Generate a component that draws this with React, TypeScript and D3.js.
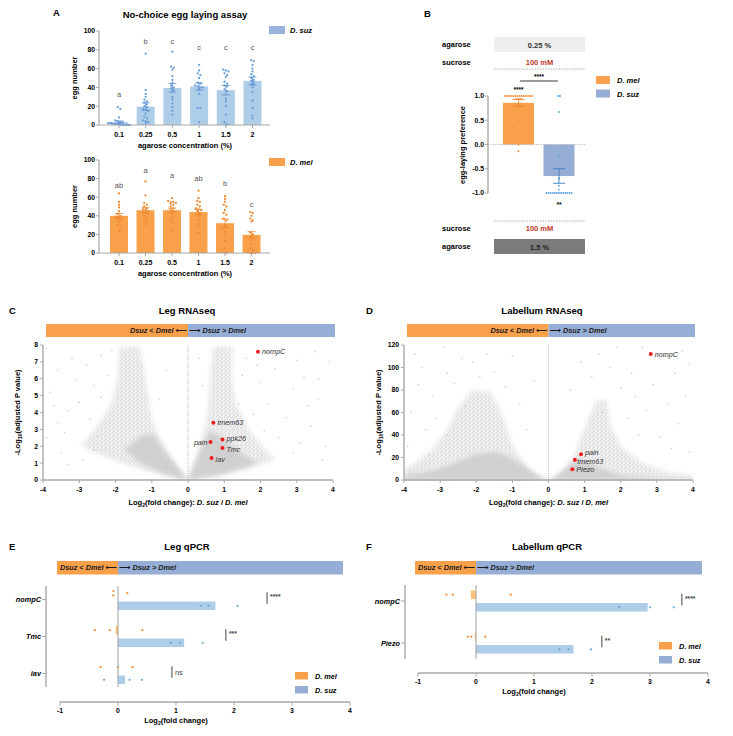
import React from 'react';
import * as d3 from 'd3';

const FONT = '"Liberation Sans", Arial, Helvetica, sans-serif';
const ORANGE = '#f9a04b';
const ORANGE_LIGHT = '#fbbf78';
const ORANGE_DOT = '#f28c36';
const BLUE_HDR = '#96aed5';
const BLUE_BAR = '#aecde8';
const BLUE_DOT = '#6a9fda';
const AXIS = '#a8a8a8';
const RED_TXT = '#c0392b';

// ---------- Panel A data ----------
const concentrations = ['0.1', '0.25', '0.5', '1', '1.5', '2'];
const yTicksA = [0, 20, 40, 60, 80, 100];
const suzMeans = [3, 19.5, 39.5, 41, 37, 47];
const suzSem = [1.2, 4, 4.5, 3.8, 5, 4];
const suzLetters = ['a', 'b', 'c', 'c', 'c', 'c'];
const suzLetterY = [30, 86, 86, 80, 80, 80];
const suzPoints = [
  [19, 17, 8, 5, 4, 3, 3, 2, 2, 1, 1, 1, 0, 0, 0, 0, 0, 2, 1, 0],
  [76, 37, 33, 30, 27, 25, 24, 22, 20, 19, 17, 16, 15, 12, 9, 7, 5, 4, 3, 2],
  [78, 62, 61, 59, 52, 48, 45, 42, 40, 39, 37, 35, 30, 27, 23, 19, 15, 11],
  [64, 58, 55, 53, 50, 45, 44, 42, 41, 40, 40, 38, 33, 18, 18, 3],
  [59, 58, 57, 55, 53, 51, 46, 44, 42, 41, 38, 36, 28, 25, 20, 11, 3, 1, 0],
  [69, 68, 64, 60, 57, 54, 52, 50, 48, 47, 45, 43, 42, 40, 35, 26, 18, 10, 7],
];
const melMeans = [40, 46, 46, 44, 32, 19.5];
const melSem = [2.5, 2.7, 2.3, 2.8, 4.5, 3.5];
const melLetters = ['ab', 'a', 'a', 'ab', 'b', 'c'];
const melLetterY = [70, 86, 80.5, 77, 72, 50];
const melPoints = [
  [64, 55, 52, 49, 45, 42, 40, 39, 38, 37, 36, 35, 33, 30, 28, 24],
  [77, 62, 54, 52, 50, 48, 47, 46, 45, 44, 43, 42, 40, 38, 35, 33, 31],
  [59, 56, 55, 55, 54, 53, 52, 50, 48, 47, 45, 42, 38, 35, 33, 24],
  [67, 59, 56, 55, 52, 50, 48, 47, 46, 45, 43, 40, 36, 31, 28, 22, 21],
  [61, 58, 55, 52, 50, 46, 43, 41, 37, 35, 30, 23, 19, 13, 5, 1, 0],
  [44, 43, 40, 37, 35, 34, 22, 20, 17, 14, 9, 5, 3, 1, 0, 0, 0],
];

// ---------- Panel B data ----------
const prefTicks = [-1, -0.5, 0, 0.5, 1];
const prefSpecies = ['D. mel', 'D. suz'];
const prefMeans = [0.86, -0.65];
const prefErrLo = [0.79, -0.8];
const prefErrHi = [0.93, -0.5];
const prefMelPoints = [1, 1, 1, 1, 1, 1, 1, 1, 1, 1, 1, 1, 1, 1, 0.94, 0.94, 0.94, 0.5, 0, -0.14];
const prefSuzPoints = [1, 1, 0.67, -0.25, -0.7, -0.85, -0.93, -1, -1, -1, -1, -1, -1, -1, -1, -1, -1, -1, -1, -1];

// ---------- Panels C / D (volcano) ----------
const volcanoXTicks = [-4, -3, -2, -1, 0, 1, 2, 3, 4];
const legYTicks = [0, 1, 2, 3, 4, 5, 6, 7, 8];
const labYTicks = [0, 20, 40, 60, 80, 100, 120];
const legCloudLeft: [number, number][] = [[0, 0], [-0.25, 0.7], [-0.55, 1.6], [-0.8, 2.6], [-0.96, 3.4], [-1.1, 5.0], [-1.2, 6.5], [-1.33, 7.9], [-1.9, 7.9], [-1.95, 6.0], [-2.1, 4.6], [-2.5, 3.2], [-2.95, 2.0], [-2.2, 1.3], [-1.4, 0.7], [-0.7, 0.25]];
const legCoreLeft: [number, number][] = [[0, 0], [-0.35, 0.9], [-0.7, 1.9], [-0.95, 2.7], [-1.3, 2.6], [-1.75, 1.8], [-1.3, 1.0], [-0.7, 0.4]];
const legCloudRight: [number, number][] = [[0, 0], [0.12, 0.8], [0.3, 2.0], [0.5, 3.4], [0.58, 5.0], [0.62, 6.5], [0.68, 7.9], [1.25, 7.9], [1.2, 6.2], [1.3, 4.6], [1.65, 3.1], [2.0, 2.1], [2.4, 1.2], [1.6, 0.6], [0.8, 0.2]];
const legCoreRight: [number, number][] = [[0, 0], [0.2, 1.0], [0.4, 2.0], [0.6, 2.9], [0.95, 2.5], [1.4, 1.7], [1.9, 1.0], [1.0, 0.4]];
const legScatter: [number, number][] = [
  [-3.9, 7.8], [-3.6, 6.5], [-3.8, 5.2], [-3.3, 4.1], [-3.6, 3.4], [-3.9, 2.5], [-3.4, 2.8], [-2.8, 6.8], [-2.6, 5.6], [-2.4, 7.4],
  [-3.1, 5.9], [-2.7, 3.6], [-3.5, 1.6], [-2.9, 1.2], [-3.2, 7.2], [-2.5, 2.6], [-3.0, 4.6], [-2.2, 6.2], [-3.7, 4.4], [-2.6, 1.8],
  [-2.1, 7.7], [-3.3, 0.9], [-2.4, 4.9], [-0.6, 6.5], [-0.8, 4.8],
  [3.9, 7.0], [3.5, 7.6], [3.2, 6.1], [2.9, 5.4], [3.6, 4.8], [3.8, 2.0], [3.1, 2.2], [2.7, 3.7], [2.4, 6.6], [2.2, 4.5],
  [2.0, 5.8], [1.6, 7.2], [1.8, 3.9], [2.5, 2.5], [3.4, 3.2], [2.9, 1.6], [3.7, 1.2], [1.5, 6.2], [1.4, 4.5], [2.6, 7.8],
  [3.0, 7.1], [3.3, 4.4], [2.1, 2.9], [1.9, 6.8], [3.6, 6.0], [0.4, 5.6], [0.3, 7.2],
];
const legHits = [
  { gene: 'nompC', fc: 1.93, p: 7.6, dx: 4, dy: 2.5 },
  { gene: 'tmem63', fc: 0.7, p: 3.4, dx: 4, dy: 2.5 },
  { gene: 'ppk26', fc: 0.95, p: 2.4, dx: 4, dy: 1.5 },
  { gene: 'pain', fc: 0.62, p: 2.25, dx: -3, dy: 2.5 },
  { gene: 'Tmc', fc: 0.95, p: 1.9, dx: 4, dy: 4 },
  { gene: 'iav', fc: 0.65, p: 1.3, dx: 4, dy: 3.5 },
];
const labCloudLeft: [number, number][] = [[0, 0], [-0.3, 5], [-0.6, 13], [-0.9, 25], [-1.1, 40], [-1.3, 60], [-1.6, 78], [-2.1, 80], [-2.5, 65], [-2.8, 45], [-3.2, 28], [-3.7, 15], [-4, 10], [-4, 0]];
const labCoreLeft: [number, number][] = [[0, 0], [-0.25, 3], [-0.5, 8], [-0.8, 15], [-1.1, 21], [-1.5, 25], [-2.0, 23], [-2.6, 15], [-3.2, 8], [-4, 4], [-4, 0]];
const labCloudRight: [number, number][] = [[0, 0], [0.2, 3], [0.45, 10], [0.7, 22], [0.9, 38], [1.1, 55], [1.3, 70], [1.6, 72], [1.7, 50], [2.0, 30], [2.6, 15], [3.3, 7], [4, 4], [4, 0]];
const labCoreRight: [number, number][] = [[0, 0], [0.2, 3], [0.4, 8], [0.6, 14], [0.85, 18], [1.1, 16], [1.45, 10], [2.0, 4], [3.0, 1.5], [4, 0.5], [4, 0]];
const labScatter: [number, number][] = [
  [-3.5, 100], [-3.7, 112], [-2.9, 118], [-2.4, 108], [-1.9, 92], [-2.6, 86], [-3.2, 75], [-3.8, 60], [-3.4, 45], [-2.1, 105],
  [-1.5, 96], [-1.2, 83], [-0.8, 68], [-0.6, 45], [-3.9, 30], [-2.8, 95], [-3.1, 55], [-1.0, 110], [-0.4, 88], [-3.6, 85],
  [-2.3, 66], [-1.7, 112], [-3.3, 22], [-2.8, 40],
  [3.9, 103], [3.5, 95], [3.2, 110], [2.6, 118], [2.3, 95], [2.0, 82], [1.7, 100], [1.4, 112], [3.8, 75], [3.3, 68],
  [2.7, 62], [2.2, 55], [3.6, 50], [3.1, 38], [2.5, 40], [3.9, 25], [1.9, 118], [1.2, 92], [0.9, 105], [2.9, 85],
  [3.4, 28], [2.4, 74], [1.5, 60], [0.6, 80], [3.7, 115],
];
const labHits = [
  { gene: 'nompC', fc: 2.83, p: 112, dx: 4, dy: 2.5 },
  { gene: 'pain', fc: 0.9, p: 23, dx: 4, dy: 0.5 },
  { gene: 'tmem63', fc: 0.73, p: 18, dx: 2.5, dy: 4 },
  { gene: 'Piezo', fc: 0.66, p: 9.5, dx: 4, dy: 3 },
];

// ---------- Panels E / F (qPCR) ----------
const qXTicks = [-1, 0, 1, 2, 3, 4];
const legGenes = ['nompC', 'Tmc', 'iav'];
const legMelBar = [0, -0.04, 0];
const legSuzBar = [1.68, 1.14, 0.12];
const legMelPts = [[-0.08, -0.08, 0.16], [-0.4, -0.14, 0.42], [-0.3, 0.0, 0.25]];
const legSuzPts = [[1.43, 1.56, 2.06], [0.91, 1.07, 1.46], [-0.24, 0.2, 0.41]];
const legSig = ['****', '***', 'ns'];
const legSigX = [2.57, 1.86, 0.93];
const labGenes = ['nompC', 'Piezo'];
const labMelBar = [-0.09, -0.02];
const labSuzBar = [2.96, 1.68];
const labMelPts = [[-0.51, -0.4, 0.6], [-0.14, -0.08, 0.16]];
const labSuzPts = [[2.47, 3.0, 3.41], [1.44, 1.6, 1.98]];
const labSig = ['****', '**'];
const labSigX = [3.55, 2.17];

// ---------- helpers ----------
function swarm(values: number[], pxPerUnit: number, gap = 2.6, maxW = 22): number[] {
  const idx = values.map((v, i) => i).sort((a, b) => values[b] - values[a]);
  const offs = new Array(values.length).fill(0);
  let i = 0;
  while (i < idx.length) {
    let j = i;
    const start = values[idx[i]];
    while (j < idx.length && (start - values[idx[j]]) * pxPerUnit < 2.4) j++;
    const n = j - i;
    const g = n > 1 ? Math.min(gap, maxW / (n - 1)) : gap;
    for (let k = 0; k < n; k++) offs[idx[i + k]] = (k - (n - 1) / 2) * g;
    i = j;
  }
  return offs;
}

const T = (p: any) => <text fontFamily={FONT} {...p} />;

function BarPanel(props: {
  top: number; bottom: number; means: number[]; sem: number[]; pts: number[][];
  letters: string[]; letterY: number[]; barColor: string; dotColor: string; errColor: string;
  legendColor: string; legendLabel: string; legendY: number; x0: number; x1: number;
}) {
  const { top, bottom } = props;
  const x = d3.scalePoint<string>().domain(concentrations).range([props.x0, props.x1]);
  const y = d3.scaleLinear().domain([0, 100]).range([bottom, top]);
  const bw = 18;
  const ax = 99;
  return (
    <g>
      {props.means.map((m, i) => (
        <rect key={i} x={x(concentrations[i])! - bw / 2} y={y(m)} width={bw} height={y(0) - y(m)} fill={props.barColor} />
      ))}
      {props.pts.map((arr, i) => {
        const offs = swarm(arr, (bottom - top) / 100, 2.6, 22);
        return arr.map((v, k) => (
          <circle key={i + '-' + k} cx={x(concentrations[i])! + offs[k]} cy={y(v)} r={1.15} fill={props.dotColor} />
        ));
      })}
      {props.means.map((m, i) => {
        const cx = x(concentrations[i])!;
        const lo = y(Math.max(0, m - props.sem[i]));
        const hi = y(m + props.sem[i]);
        return (
          <g key={'e' + i} stroke={props.errColor} strokeWidth={0.8}>
            <line x1={cx} x2={cx} y1={lo} y2={hi} />
            <line x1={cx - 4} x2={cx + 4} y1={hi} y2={hi} />
            <line x1={cx - 4} x2={cx + 4} y1={lo} y2={lo} />
          </g>
        );
      })}
      {props.letters.map((l, i) => (
        <T key={'l' + i} x={x(concentrations[i])} y={y(props.letterY[i])} fontSize={7.5} fill="#555" textAnchor="middle">{l}</T>
      ))}
      <line x1={ax} x2={ax} y1={y(0)} y2={y(100)} stroke={AXIS} strokeWidth={1.2} />
      <line x1={ax} x2={270} y1={y(0)} y2={y(0)} stroke={AXIS} strokeWidth={1.2} />
      {yTicksA.map((t) => (
        <g key={'yt' + t}>
          <line x1={ax - 3} x2={ax} y1={y(t)} y2={y(t)} stroke={AXIS} strokeWidth={1} />
          <T x={ax - 4} y={y(t) + 2.4} fontSize={6.8} fontWeight="bold" textAnchor="end">{t}</T>
        </g>
      ))}
      {concentrations.map((c) => (
        <g key={'xt' + c}>
          <line x1={x(c)} x2={x(c)} y1={y(0)} y2={y(0) + 3} stroke={AXIS} strokeWidth={1} />
          <T x={x(c)} y={y(0) + 12} fontSize={7} fontWeight="bold" textAnchor="middle">{c}</T>
        </g>
      ))}
      <T x={185} y={y(0) + 23} fontSize={7.5} fontWeight="bold" textAnchor="middle">agarose concentration (%)</T>
      <T transform={`translate(77,${(top + bottom) / 2}) rotate(-90)`} fontSize={7.5} fontWeight="bold" textAnchor="middle">egg number</T>
      <rect x={269} y={props.legendY} width={16} height={8} fill={props.legendColor} />
      <T x={290} y={props.legendY + 7} fontSize={7.5} fontWeight="bold" fontStyle="italic">{props.legendLabel}</T>
    </g>
  );
}

function PanelB() {
  const y = d3.scaleLinear().domain([-1, 1]).range([193, 96]);
  const cx = [518.5, 559];
  const bw = 31;
  const ax = 488;
  const colors = [ORANGE, '#96aed6'];
  const dotC = [ORANGE_DOT, '#5aa3dd'];
  const errC = ['#ee8228', '#3f80c4'];
  const ptsAll = [prefMelPoints, prefSuzPoints];
  return (
    <g>
      <T x={424} y={17} fontSize={9.5} fontWeight="bold">B</T>
      <T x={442} y={47} fontSize={7.5} fontWeight="bold">agarose</T>
      <rect x={494} y={37} width={91} height={15} fill="#eeeeee" />
      <T x={539.5} y={47.5} fontSize={7.5} fontWeight="bold" textAnchor="middle" fill="#333">0.25 %</T>
      <T x={442} y={65} fontSize={7.5} fontWeight="bold">sucrose</T>
      <T x={539.5} y={65} fontSize={7.5} fontWeight="bold" textAnchor="middle" fill={RED_TXT}>100 mM</T>
      <line x1={494} x2={585} y1={69} y2={69} stroke="#999" strokeDasharray="1.5,1.2" strokeWidth={0.8} />
      <line x1={520} x2={558} y1={81} y2={81} stroke="#222" strokeWidth={0.9} />
      <T x={539} y={79} fontSize={6.5} fontWeight="bold" textAnchor="middle">****</T>
      {prefMeans.map((m, i) => (
        <rect key={i} x={cx[i] - bw / 2} y={Math.min(y(m), y(0))} width={bw} height={Math.abs(y(m) - y(0))} fill={colors[i]} />
      ))}
      <line x1={ax} x2={585} y1={y(0)} y2={y(0)} stroke="#aaa" strokeDasharray="1.2,1.2" strokeWidth={0.8} />
      {ptsAll.map((arr, i) => {
        const offs = swarm(arr, 48, 2.1, 30);
        return arr.map((v, k) => (
          <circle key={i + '-' + k} cx={cx[i] + offs[k]} cy={y(v)} r={0.95} fill={dotC[i]} />
        ));
      })}
      {prefMeans.map((m, i) => (
        <g key={'e' + i} stroke={errC[i]} strokeWidth={0.9}>
          <line x1={cx[i]} x2={cx[i]} y1={y(prefErrLo[i])} y2={y(prefErrHi[i])} />
          <line x1={cx[i] - 6} x2={cx[i] + 6} y1={y(prefErrLo[i])} y2={y(prefErrLo[i])} />
          <line x1={cx[i] - 6} x2={cx[i] + 6} y1={y(prefErrHi[i])} y2={y(prefErrHi[i])} />
        </g>
      ))}
      <T x={cx[0]} y={92} fontSize={6.5} fontWeight="bold" textAnchor="middle">****</T>
      <T x={cx[1]} y={207} fontSize={6.5} fontWeight="bold" textAnchor="middle">**</T>
      <line x1={ax} x2={ax} y1={y(-1)} y2={y(1)} stroke={AXIS} strokeWidth={1.4} />
      {prefTicks.map((t) => (
        <g key={t}>
          <line x1={ax - 3} x2={ax} y1={y(t)} y2={y(t)} stroke={AXIS} strokeWidth={1} />
          <T x={ax - 4} y={y(t) + 2.4} fontSize={6.8} fontWeight="bold" textAnchor="end">{d3.format('.1f')(t).replace('−', '-')}</T>
        </g>
      ))}
      <T transform="translate(465,145) rotate(-90)" fontSize={7.5} fontWeight="bold" textAnchor="middle">egg-laying preference</T>
      <rect x={596} y={76} width={14} height={8} fill={ORANGE} />
      <T x={617} y={83} fontSize={7.5} fontWeight="bold" fontStyle="italic">{prefSpecies[0]}</T>
      <rect x={596} y={89.5} width={14} height={8} fill={BLUE_HDR} />
      <T x={617} y={96.5} fontSize={7.5} fontWeight="bold" fontStyle="italic">{prefSpecies[1]}</T>
      <line x1={494} x2={585} y1={221} y2={221} stroke="#999" strokeDasharray="1.5,1.2" strokeWidth={0.8} />
      <T x={442} y={231} fontSize={7.5} fontWeight="bold">sucrose</T>
      <T x={539.5} y={231} fontSize={7.5} fontWeight="bold" textAnchor="middle" fill={RED_TXT}>100 mM</T>
      <T x={442} y={249} fontSize={7.5} fontWeight="bold">agarose</T>
      <rect x={494} y={239} width={91} height={15} fill="#7b7b7b" />
      <T x={539.5} y={249.5} fontSize={7.5} fontWeight="bold" textAnchor="middle" fill="#222">1.5 %</T>
    </g>
  );
}

function Header(props: { x0: number; xm: number; x1: number; y: number; h: number }) {
  const { x0, xm, x1, y, h } = props;
  const by = y + h / 2 + 2.6;
  return (
    <g>
      <rect x={x0} y={y} width={xm - x0} height={h} fill={ORANGE} />
      <rect x={xm} y={y} width={x1 - xm} height={h} fill={BLUE_HDR} />
      <T x={xm - 1} y={by} fontSize={7.3} fontWeight="bold" fontStyle="italic" textAnchor="end" fill="#1a1a1a">
        Dsuz &lt; Dmel <tspan fontFamily="DejaVu Sans" fontStyle="normal" fontSize={8}>⟵</tspan>
      </T>
      <T x={xm + 1} y={by} fontSize={7.3} fontWeight="bold" fontStyle="italic" fill="#1a1a1a">
        <tspan fontFamily="DejaVu Sans" fontStyle="normal" fontSize={8}>⟶</tspan> Dsuz &gt; Dmel
      </T>
    </g>
  );
}

function Volcano(props: {
  id: string; letter: string; title: string; titleX: number; letterX: number;
  x0: number; x1: number; yMax: number; yTicks: number[];
  clouds: [number, number][][]; cores: [number, number][][];
  scatter: [number, number][]; hits: { gene: string; fc: number; p: number; dx: number; dy: number }[];
}) {
  const x = d3.scaleLinear().domain([-4, 4]).range([props.x0, props.x1]);
  const y = d3.scaleLinear().domain([0, props.yMax]).range([480, 345]);
  const line = d3.line<[number, number]>().x((d) => x(d[0])).y((d) => y(d[1])).curve(d3.curveLinearClosed);
  const pm = 'pm' + props.id, pc = 'pc' + props.id, bl = 'bl' + props.id, mm = 'mm' + props.id, mc = 'mc' + props.id;
  const px0 = props.x0, pw = props.x1 - props.x0;
  return (
    <g>
      <defs>
        <pattern id={pm} width={4} height={4} patternUnits="userSpaceOnUse">
          <rect width={4} height={4} fill="#f3f3f3" />
          <circle cx={0.8} cy={0.9} r={0.6} fill="#c8c8c8" />
          <circle cx={2.9} cy={1.9} r={0.6} fill="#c8c8c8" />
          <circle cx={1.6} cy={3.3} r={0.6} fill="#c8c8c8" />
        </pattern>
        <pattern id={pc} width={3} height={3} patternUnits="userSpaceOnUse">
          <rect width={3} height={3} fill="#d6d6d6" />
          <circle cx={0.8} cy={0.8} r={0.6} fill="#bdbdbd" />
          <circle cx={2.2} cy={2.1} r={0.6} fill="#bdbdbd" />
        </pattern>
        <filter id={bl} x="-20%" y="-20%" width="140%" height="140%">
          <feGaussianBlur stdDeviation={2.2} />
        </filter>
        <mask id={mm} maskUnits="userSpaceOnUse" x={px0} y={340} width={pw} height={141}>
          <g filter={`url(#${bl})`}>
            {props.clouds.map((c, i) => <path key={i} d={line(c)!} fill="#fff" />)}
          </g>
        </mask>
        <mask id={mc} maskUnits="userSpaceOnUse" x={px0} y={340} width={pw} height={141}>
          <g filter={`url(#${bl})`}>
            {props.cores.map((c, i) => <path key={i} d={line(c)!} fill="#fff" />)}
          </g>
        </mask>
      </defs>
      <T x={props.letterX} y={314} fontSize={9.5} fontWeight="bold">{props.letter}</T>
      <T x={props.titleX} y={314} fontSize={9.5} fontWeight="bold" textAnchor="middle">{props.title}</T>
      <Header x0={x(-4) + 3} xm={x(0)} x1={x(4) + 2} y={324} h={13} />
      <rect x={px0} y={340} width={pw} height={141} fill={`url(#${pm})`} mask={`url(#${mm})`} />
      <rect x={px0} y={340} width={pw} height={141} fill={`url(#${pc})`} mask={`url(#${mc})`} />
      {props.scatter.map((p, i) => <circle key={'s' + i} cx={x(p[0])} cy={y(p[1])} r={0.75} fill="#c6c6c6" />)}
      <line x1={x(0)} x2={x(0)} y1={y(props.yMax)} y2={y(0)} stroke="#aaa" strokeDasharray="1,1" strokeWidth={0.8} />
      {props.hits.map((h) => {
        const cx = x(h.fc), cy = y(h.p);
        const left = h.dx < 0;
        return (
          <g key={h.gene}>
            <circle cx={cx} cy={cy} r={2} fill="#ee1c1c" />
            <T x={cx + h.dx} y={cy + h.dy} fontSize={7.2} fontStyle="italic" textAnchor={left ? 'end' : 'start'} fill="#333">{h.gene}</T>
          </g>
        );
      })}
      <line x1={x(-4)} x2={x(-4)} y1={y(0)} y2={y(props.yMax)} stroke={AXIS} strokeWidth={1.4} />
      <line x1={x(-4)} x2={x(4)} y1={y(0)} y2={y(0)} stroke={AXIS} strokeWidth={1.4} />
      {props.yTicks.map((t) => (
        <g key={'y' + t}>
          <line x1={x(-4) - 3} x2={x(-4)} y1={y(t)} y2={y(t)} stroke={AXIS} strokeWidth={1} />
          <T x={x(-4) - 5} y={y(t) + 2.4} fontSize={6.8} fontWeight="bold" textAnchor="end">{t}</T>
        </g>
      ))}
      {volcanoXTicks.map((t) => (
        <g key={'x' + t}>
          <line x1={x(t)} x2={x(t)} y1={y(0)} y2={y(0) + 3} stroke={AXIS} strokeWidth={1} />
          <T x={x(t)} y={y(0) + 12} fontSize={6.8} fontWeight="bold" textAnchor="middle">{t}</T>
        </g>
      ))}
      <T x={x(0)} y={y(0) + 24.5} fontSize={7.5} fontWeight="bold" textAnchor="middle">
        Log<tspan fontSize={5.2} dy={2}>2</tspan><tspan dy={-2}>(fold change): </tspan><tspan fontStyle="italic">D. suz</tspan> / <tspan fontStyle="italic">D. mel</tspan>
      </T>
      <T transform={`translate(${x(-4) - 23},${(345 + 480) / 2}) rotate(-90)`} fontSize={7.5} fontWeight="bold" textAnchor="middle">
        -Log<tspan fontSize={5.2} dy={2}>10</tspan><tspan dy={-2}>(adjusted P value)</tspan>
      </T>
    </g>
  );
}

function QPCR(props: {
  letter: string; title: string; titleX: number; letterX: number;
  x0: number; x1: number; hdrX0: number; hdrX1: number; axisX: number;
  catTop: number; catBottom: number; axisY: number;
  genes: string[]; melBar: number[]; suzBar: number[]; melPts: number[][]; suzPts: number[][];
  sig: string[]; sigX: number[]; legendX: number; legendY: number;
}) {
  const x = d3.scaleLinear().domain([-1, 4]).range([props.x0, props.x1]);
  const yb = d3.scaleBand<string>().domain(props.genes).range([props.catTop, props.catBottom]);
  const yc = (g: string) => yb(g)! + yb.bandwidth() / 2;
  const off = 6.3;
  const th = 8.5;
  const axTop = props.catTop + 5;
  const axBot = props.catBottom - 5;
  return (
    <g>
      <T x={props.letterX} y={550} fontSize={9.5} fontWeight="bold">{props.letter}</T>
      <T x={props.titleX} y={550} fontSize={9.5} fontWeight="bold" textAnchor="middle">{props.title}</T>
      <Header x0={props.hdrX0} xm={x(0)} x1={props.hdrX1} y={561} h={13.5} />
      {props.genes.map((g, i) => {
        const c = yc(g);
        const m = props.melBar[i], s = props.suzBar[i];
        return (
          <g key={g}>
            <rect x={Math.min(x(0), x(m))} y={c - off - th / 2} width={Math.abs(x(m) - x(0))} height={th} fill={ORANGE_LIGHT} />
            <rect x={Math.min(x(0), x(s))} y={c + off - th / 2} width={Math.abs(x(s) - x(0))} height={th} fill={BLUE_BAR} />
            {props.melPts[i].map((v, k) => {
              const before = props.melPts[i].some((w, j) => j < k && Math.abs(w - v) < 0.05);
              const after = props.melPts[i].some((w, j) => j > k && Math.abs(w - v) < 0.05);
              return <circle key={'m' + k} cx={x(v)} cy={c - off + (before ? 2.2 : 0) - (after ? 2.2 : 0)} r={1.1} fill={ORANGE_DOT} />;
            })}
            {props.suzPts[i].map((v, k) => <circle key={'s' + k} cx={x(v)} cy={c + off} r={1.1} fill="#6aaad8" />)}
            <line x1={x(props.sigX[i])} x2={x(props.sigX[i])} y1={c - off - 1} y2={c + off - 2} stroke="#444" strokeWidth={1} />
            <T x={x(props.sigX[i]) + 3} y={props.sig[i] === 'ns' ? c + 1 : c - 0.5} fontSize={props.sig[i] === 'ns' ? 7.5 : 6.8} fontWeight={props.sig[i] === 'ns' ? 'normal' : 'bold'} fill="#444">{props.sig[i]}</T>
            <line x1={props.axisX - 4} x2={props.axisX} y1={c} y2={c} stroke={AXIS} strokeWidth={1} />
            <T x={props.axisX - 5} y={c + 2.5} fontSize={7.3} fontWeight="bold" fontStyle="italic" textAnchor="end">{g}</T>
          </g>
        );
      })}
      <line x1={x(0)} x2={x(0)} y1={axTop} y2={axBot} stroke="#a0a0a0" strokeWidth={1} />
      <line x1={props.axisX} x2={props.axisX} y1={axTop} y2={axBot} stroke={AXIS} strokeWidth={1.4} />
      <line x1={x(-1)} x2={x(4)} y1={props.axisY} y2={props.axisY} stroke={AXIS} strokeWidth={1.4} />
      {qXTicks.map((t) => (
        <g key={'x' + t}>
          <line x1={x(t)} x2={x(t)} y1={props.axisY} y2={props.axisY + 3.5} stroke={AXIS} strokeWidth={1} />
          <T x={x(t)} y={props.axisY + 11} fontSize={6.8} fontWeight="bold" textAnchor="middle">{t}</T>
        </g>
      ))}
      <T x={x(1)} y={props.axisY + 21} fontSize={7.5} fontWeight="bold" textAnchor="middle">
        Log<tspan fontSize={5.2} dy={2}>2</tspan><tspan dy={-2}>(fold change)</tspan>
      </T>
      <rect x={props.legendX} y={props.legendY} width={13} height={7.5} fill={ORANGE} />
      <T x={props.legendX + 20} y={props.legendY + 6.5} fontSize={7.3} fontWeight="bold" fontStyle="italic">D. mel</T>
      <rect x={props.legendX} y={props.legendY + 14} width={13} height={7.5} fill={BLUE_HDR} />
      <T x={props.legendX + 20} y={props.legendY + 20.5} fontSize={7.3} fontWeight="bold" fontStyle="italic">D. suz</T>
    </g>
  );
}

export default function App() {
  return (
    <svg width={733} height={736} viewBox="0 0 733 736" style={{ position: 'absolute', left: 0, top: 0, background: '#fff' }}>
      <rect width={733} height={736} fill="#fff" />
      <T x={53} y={16} fontSize={9.5} fontWeight="bold">A</T>
      <T x={185} y={18} fontSize={9.5} fontWeight="bold" textAnchor="middle">No-choice egg laying assay</T>
      <BarPanel top={31} bottom={125} x0={119} x1={252.5} means={suzMeans} sem={suzSem} pts={suzPoints}
        letters={suzLetters} letterY={suzLetterY} barColor={BLUE_BAR} dotColor={BLUE_DOT} errColor="#5c8fd0"
        legendColor="#98b4de" legendLabel="D. suz" legendY={26} />
      <BarPanel top={160} bottom={253} x0={119} x1={251.5} means={melMeans} sem={melSem} pts={melPoints}
        letters={melLetters} letterY={melLetterY} barColor={ORANGE} dotColor={ORANGE_DOT} errColor="#f08428"
        legendColor={ORANGE} legendLabel="D. mel" legendY={158} />
      <PanelB />
      <Volcano id="C" letter="C" title="Leg RNAseq" titleX={187} letterX={9} x0={43} x1={333} yMax={8} yTicks={legYTicks}
        clouds={[legCloudLeft, legCloudRight]} cores={[legCoreLeft, legCoreRight]} scatter={legScatter} hits={legHits} />
      <Volcano id="D" letter="D" title="Labellum RNAseq" titleX={542} letterX={366} x0={404} x1={693} yMax={120} yTicks={labYTicks}
        clouds={[labCloudLeft, labCloudRight]} cores={[labCoreLeft, labCoreRight]} scatter={labScatter} hits={labHits} />
      <QPCR letter="E" title="Leg qPCR" titleX={187} letterX={9} x0={60} x1={350} hdrX0={57} hdrX1={343} axisX={46}
        catTop={581} catBottom={692} axisY={702} genes={legGenes} melBar={legMelBar} suzBar={legSuzBar}
        melPts={legMelPts} suzPts={legSuzPts} sig={legSig} sigX={legSigX} legendX={295} legendY={672} />
      <QPCR letter="F" title="Labellum qPCR" titleX={547} letterX={366} x0={418} x1={708} hdrX0={415} hdrX1={702} axisX={405}
        catTop={580} catBottom={664} axisY={673} genes={labGenes} melBar={labMelBar} suzBar={labSuzBar}
        melPts={labMelPts} suzPts={labSuzPts} sig={labSig} sigX={labSigX} legendX={659} legendY={642} />
    </svg>
  );
}
